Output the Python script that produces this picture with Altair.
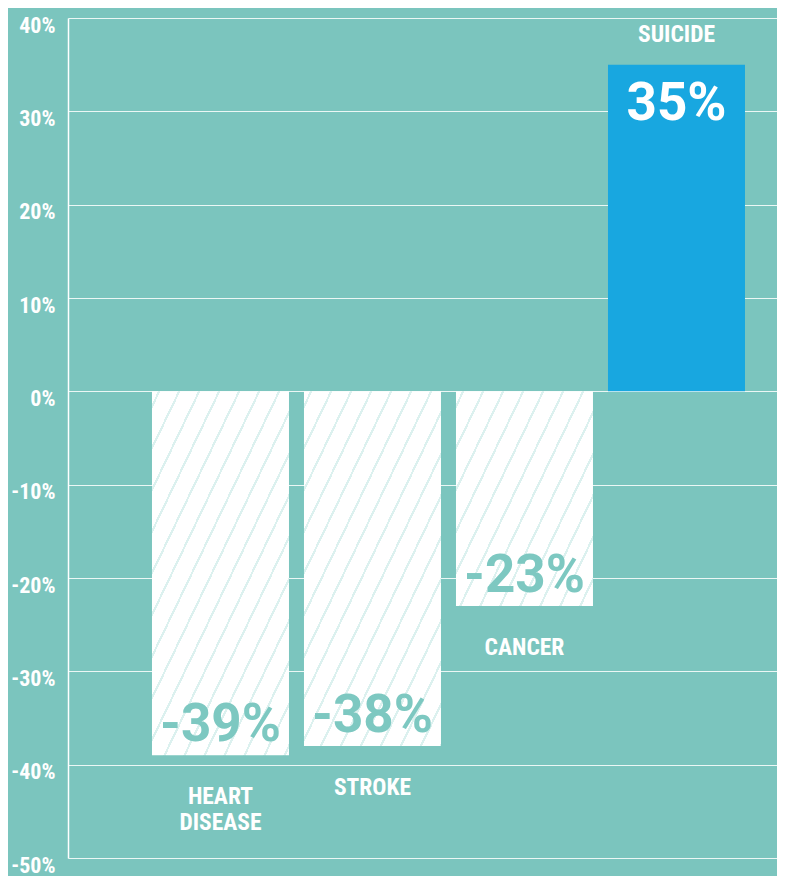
import altair as alt
import pandas as pd

# ---- data ----
categories = ["HEART DISEASE", "STROKE", "CANCER", "SUICIDE"]
cat_labels = ["HEART\nDISEASE", "STROKE", "CANCER", "SUICIDE"]
values = [-39, -38, -23, 35]
value_labels = ["-39%", "-38%", "-23%", "35%"]
y_ticks = [40, 30, 20, 10, 0, -10, -20, -30, -40, -50]

df = pd.DataFrame({"cat": categories, "name": cat_labels, "value": values, "label": value_labels})

# ---- style ----
BG = "#7bc5be"
BLUE = "#18a7e0"
NUM_TEAL = "#7dc8c1"
STRIPE = "#dcf1ef"
COND = "Roboto Condensed, Liberation Sans Narrow, DejaVu Sans Condensed, Roboto"

W_PLOT = 709
H_PLOT = 840
Y_MIN, Y_MAX = -50, 40
PX_PER_UNIT = H_PLOT / (Y_MAX - Y_MIN)
P_IN, P_OUT, ALIGN = 0.0987, 0.3816, 0.724
STEP = W_PLOT / (len(categories) - P_IN + 2 * P_OUT)
BW = STEP * (1 - P_IN)


def hatch(w, h, slope=0.48, period=20.0, thick=2.4, phase=6.0):
    """Diagonal stripes as a sharp-stop linear gradient (bbox units)."""
    F = w + slope * h
    k = F / (w * w + slope * slope * h * h)
    x2, y2 = k * w, k * slope * h
    stops = [{"offset": 0, "color": "white"}]
    f = phase
    while f < F:
        a = min(f / F, 1.0)
        b = min((f + thick) / F, 1.0)
        stops += [
            {"offset": a, "color": "white"},
            {"offset": a, "color": STRIPE},
            {"offset": b, "color": STRIPE},
            {"offset": b, "color": "white"},
        ]
        f += period
    stops.append({"offset": 1, "color": "white"})
    return {"gradient": "linear", "x1": 0, "y1": 0, "x2": x2, "y2": y2, "stops": stops}


x_enc = alt.X(
    "cat:N",
    sort=categories,
    scale=alt.Scale(paddingInner=P_IN, paddingOuter=P_OUT, align=ALIGN),
    axis=None,
)
y_enc = alt.Y(
    "value:Q",
    scale=alt.Scale(domain=[Y_MIN, Y_MAX], nice=False),
    axis=alt.Axis(
        values=y_ticks,
        labelExpr="datum.value + '%'",
        title=None,
        ticks=False,
        grid=True,
        gridColor="white",
        gridOpacity=0.85,
        gridWidth=1,
        domain=True,
        domainColor="white",
        domainWidth=1.5,
        labelColor="white",
        labelFont=COND,
        labelFontSize=22,
        labelFontWeight="bold",
        labelPadding=13,
        labelBaseline="top",
        labelOffset=-3,
        labelOverlap=False,
        labelFlush=False,
    ),
)

base = alt.Chart(df).encode(x=x_enc, y=y_enc)

layers = []
for c, v in zip(categories, values):
    if v < 0:
        layers.append(
            base.transform_filter(alt.datum.cat == c).mark_bar(
                fill=hatch(BW, abs(v) * PX_PER_UNIT)
            )
        )
layers.append(base.transform_filter("datum.value > 0").mark_bar(fill=BLUE))

num_neg = base.transform_filter("datum.value < 0").mark_text(
    font="Roboto", fontWeight="bold", fontSize=53, color=NUM_TEAL,
    baseline="alphabetic", align="center", dy=-14,
).encode(text="label:N")
num_pos = base.transform_filter("datum.value > 0").mark_text(
    font="Roboto", fontWeight="bold", fontSize=53, color="white",
    baseline="alphabetic", align="center", dy=55,
).encode(text="label:N")
cat_below = base.transform_filter("datum.value < 0").mark_text(
    font=COND, fontWeight="bold", fontSize=23.5, color="white",
    baseline="top", align="center", dy=30, lineBreak="\n", lineHeight=26,
).encode(text="name:N")
cat_above = base.transform_filter("datum.value > 0").mark_text(
    font=COND, fontWeight="bold", fontSize=23.5, color="white",
    baseline="alphabetic", align="center", dy=-23,
).encode(text="name:N")

chart = (
    alt.layer(*layers, num_neg, num_pos, cat_below, cat_above)
    .properties(
        width=W_PLOT,
        height=H_PLOT,
        background=BG,
        padding={"left": 60, "top": 10, "right": 0, "bottom": 18},
        autosize=alt.AutoSizeParams(type="none"),
    )
    .configure_view(strokeWidth=0)
)

chart.save("out.html", embed_options={"renderer": "svg", "actions": False})
